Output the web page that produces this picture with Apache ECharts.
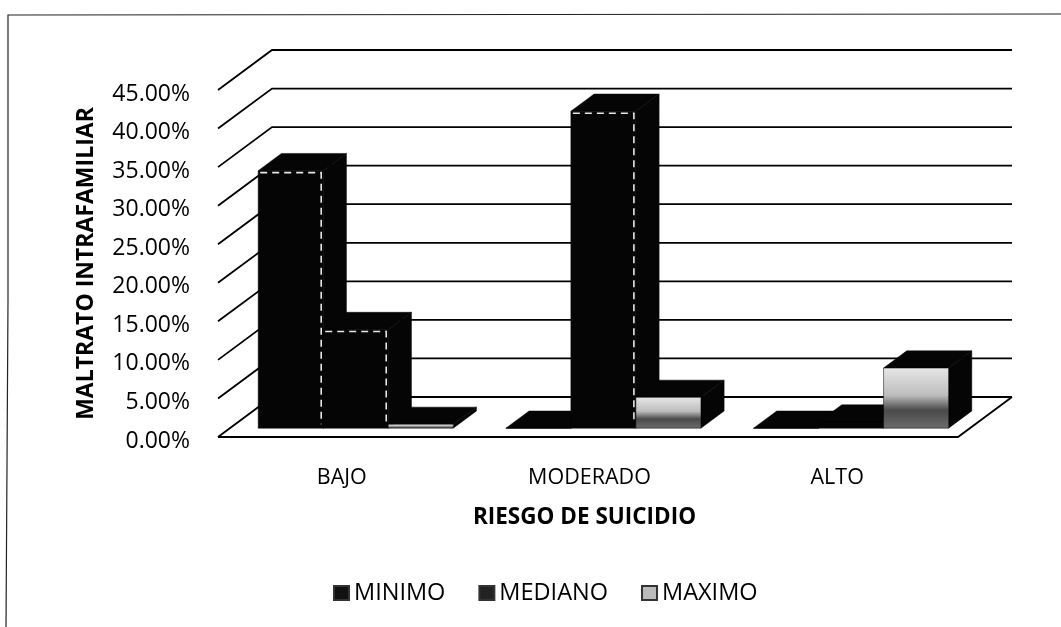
<!DOCTYPE html>
<html>
<head>
<meta charset="utf-8">
<style>html,body{margin:0;padding:0;background:#fff}#c{width:1061px;height:627px}</style>
<script src="https://cdn.jsdelivr.net/npm/echarts@6/dist/echarts.min.js"></script>
</head>
<body>
<div id="c"></div>
<script>
const categories = ['BAJO', 'MODERADO', 'ALTO'];
const seriesNames = ['MINIMO', 'MEDIANO', 'MAXIMO'];
const minimo = [33.4, 0, 0];
const mediano = [12.8, 41.1, 0.8];
const maximo = [0.5, 4.0, 7.8];
const ticks = [0, 5, 10, 15, 20, 25, 30, 35, 40, 45];

const FONT = '"Open Sans", "Noto Sans", sans-serif';
const DX = 54, DY = -40;          // depth of the floor in pixels
const FRONT = 0.22, DEPTH = 0.43; // bar position and depth as parts of the floor depth
const BAR = 0.2625;               // bar width as part of a category band

function wallItem(params, api) {
  const p = api.coord([0, api.value(0)]);
  const band = api.size([1, 0])[0];
  const x0 = p[0] - band / 2, y = p[1];
  const x1 = x0 + band * categories.length - 3;
  const style = { stroke: '#000', lineWidth: 1.8, fill: null };
  const children = [{
    type: 'polyline',
    shape: { points: [[x0, y], [x0 + DX, y + DY], [x1 + DX, y + DY]] },
    style
  }];
  if (api.value(0) === 0) {
    children.push({
      type: 'polyline',
      shape: { points: [[x0, y], [x1, y], [x1 + DX, y + DY]] },
      style
    });
  }
  return { type: 'group', children };
}

function barRenderer(idx, faceFill) {
  return function (params, api) {
    const cat = api.value(0), val = api.value(1);
    const band = api.size([1, 0])[0];
    const bw = band * BAR;
    const top = api.coord([cat, val]);
    const base = api.coord([cat, 0]);
    const fx = DX * FRONT + 2, fy = DY * FRONT;
    const ddx = DX * DEPTH, ddy = DY * DEPTH;
    const l = top[0] + fx + (idx - 1.5) * bw, r = l + bw;
    const t = top[1] + fy, b = base[1] + fy;
    const black = { fill: '#050505', stroke: '#050505', lineWidth: 0.5 };
    const children = [
      { type: 'polygon', shape: { points: [[r, t], [r + ddx, t + ddy], [r + ddx, b + ddy], [r, b]] }, style: black },
      { type: 'polygon', shape: { points: [[l, t], [l + ddx, t + ddy], [r + ddx, t + ddy], [r, t]] }, style: black },
      { type: 'rect', shape: { x: l, y: t, width: bw, height: b - t }, style: { fill: faceFill, stroke: '#050505', lineWidth: 0.5 } }
    ];
    if (b - t > 20 && idx < 2) {
      children.push({
        type: 'polyline',
        shape: { points: [[l + 2, t + 2], [r - 2, t + 2], [r - 2, b - 4]] },
        style: { stroke: '#e8e8e8', lineWidth: 1.6, lineDash: [7, 5], fill: null }
      });
    }
    return { type: 'group', children };
  };
}

const maxFace = new echarts.graphic.LinearGradient(0, 0, 0, 1, [
  { offset: 0, color: '#e6e6e6' },
  { offset: 0.45, color: '#bdbdbd' },
  { offset: 0.7, color: '#4a4a4a' },
  { offset: 1, color: '#6b6b6b' }
]);

function barSeries(name, values, idx, faceFill, legendColor) {
  return {
    name,
    type: 'custom',
    coordinateSystem: 'cartesian2d',
    renderItem: barRenderer(idx, faceFill),
    encode: { x: 0, y: 1 },
    itemStyle: { color: legendColor, borderColor: '#333', borderWidth: 1 },
    data: values.map((v, i) => [i, v]),
    clip: false,
    silent: true
  };
}

const chart = echarts.init(document.getElementById('c'), null, { renderer: 'canvas' });
chart.setOption({
  animation: false,
  backgroundColor: '#fff',
  grid: { left: 218, right: 100, top: 90, bottom: 190, containLabel: false },
  xAxis: {
    type: 'category',
    data: categories,
    axisLine: { show: false },
    axisTick: { show: false },
    axisLabel: { color: '#000', fontFamily: FONT, fontSize: 21.5, margin: 30 },
    name: 'RIESGO DE SUICIDIO',
    nameLocation: 'middle',
    nameGap: 69,
    nameTextStyle: { color: '#000', fontFamily: FONT, fontSize: 22.5, fontWeight: 'bold', padding: [0, 10, 0, 0] }
  },
  yAxis: {
    type: 'value',
    min: 0,
    max: 45,
    interval: 5,
    splitLine: { show: false },
    axisLine: { show: false },
    axisTick: { show: false },
    axisLabel: {
      color: '#000', fontFamily: FONT, fontSize: 23, margin: 28,
      verticalAlign: 'top',
      lineHeight: 8,
      formatter: v => v.toFixed(2) + '%'
    },
    name: 'MALTRATO INTRAFAMILIAR',
    nameLocation: 'middle',
    nameGap: 120,
    nameTextStyle: { color: '#000', fontFamily: FONT, fontSize: 23, fontWeight: 'bold' }
  },
  legend: {
    data: seriesNames,
    top: 576,
    left: 328,
    icon: 'rect',
    itemWidth: 15,
    itemHeight: 14,
    itemGap: 33,
    textStyle: { color: '#000', fontFamily: FONT, fontSize: 23.5 },
    selectedMode: false
  },
  graphic: [{
    type: 'polyline',
    silent: true,
    shape: { points: [[6, 627], [8, 300], [8, 15], [1061, 14]] },
    style: { stroke: '#222', lineWidth: 1.2, fill: null }
  }],
  series: [
    {
      type: 'custom',
      name: 'wall',
      coordinateSystem: 'cartesian2d',
      renderItem: wallItem,
      encode: { y: 0 },
      data: ticks.map(t => [t]),
      clip: false,
      silent: true,
      z: 1
    },
    barSeries(seriesNames[0], minimo, 0, '#050505', '#111'),
    barSeries(seriesNames[1], mediano, 1, '#050505', '#222'),
    barSeries(seriesNames[2], maximo, 2, maxFace, '#bbb')
  ]
});
</script>
</body>
</html>
